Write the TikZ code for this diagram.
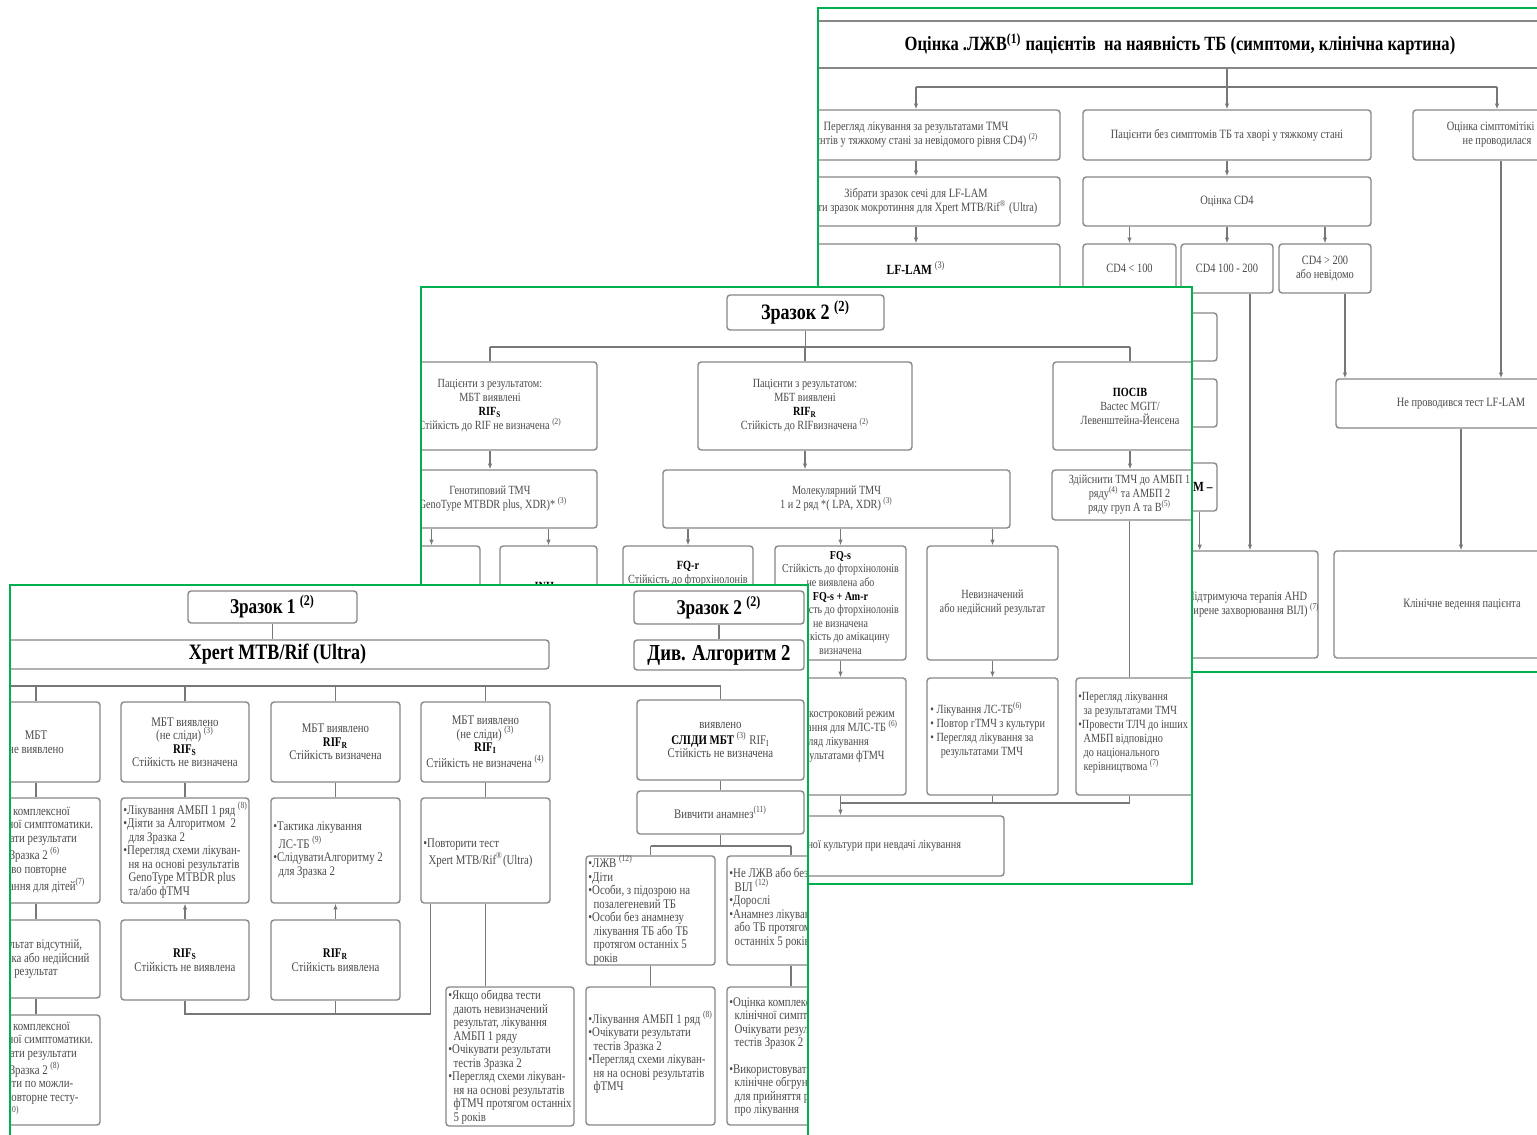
\documentclass[tikz,border=0pt]{standalone}
\usepackage{fontspec}
\setmainfont{Liberation Serif}[FakeStretch=0.82]
\usetikzlibrary{arrows.meta}
\definecolor{grn}{RGB}{0,176,80}
\definecolor{boxc}{RGB}{135,135,135}
\definecolor{linec}{RGB}{120,120,120}
\definecolor{txtc}{RGB}{75,75,75}
\newcommand\fs{\fontsize{6.6}{6.75}\selectfont}
\newcommand\fm{\fontsize{6.25}{7}\selectfont}
\newcommand\ft{\fontsize{6.35}{7}\selectfont}
\newcommand\ssp[1]{\textsuperscript{(#1)}}
\newcommand\bt[1]{\textcolor{black}{\bfseries #1}}
\newcommand\ind{\hspace*{2.6pt}}
\newcommand\mybox[7][]{\node[bx,minimum width={(#5-#3)*0.5pt},minimum height={(#6-#4)*0.5pt},#1] (#2) at ({(#3+#5)/2},{(#4+#6)/2}) {#7};}
\tikzset{
 bx/.style={draw=boxc, line width=0.7pt, rounded corners=1.6pt, fill=white, inner sep=1pt, align=center, text=txtc},
 txt/.style={inner sep=0pt, text=txtc, align=left},
 ln/.style={draw=linec, line width=0.6pt},
 arr/.style={ln, -{Latex[length=2.8pt,width=2.2pt]}},
 panel/.style={draw=grn, line width=1.1pt},
}
\begin{document}
\begin{tikzpicture}[x=0.5pt,y=-0.5pt]
\useasboundingbox (0,0) rectangle (1537,1135);
\fill[white] (0,0) rectangle (1537,1135);
% ================= TOP PANEL =================
\begin{scope}
\clip (818,8) rectangle (1600,672);
\mybox[font=\fontsize{10.1}{11}\selectfont\bfseries, text=black, rounded corners=0pt]{T}{790}{21}{1570}{68}{Оцінка .ЛЖВ\ssp{1} пацієнтів \ на наявність ТБ (симптоми, клінічна картина)}
\mybox[font=\ft]{A1}{772}{110}{1060}{160}{Перегляд лікування за результатами ТМЧ\\(пацієнтів у тяжкому стані за невідомого рівня CD4) \ssp{2}}
\mybox[font=\ft]{A2}{1083}{110}{1371}{160}{Пацієнти без симптомів ТБ та хворі у тяжкому стані}
\mybox[font=\ft]{A3}{1413}{110}{1581}{160}{Оцінка сімптомітікі не\\не проводилася}
\mybox[font=\ft]{B1}{772}{177}{1060}{226}{Зібрати зразок сечі для LF-LAM\\Зібрати зразок мокротиння для Xpert MTB/Rif\textsuperscript{®} (Ultra)}
\mybox[font=\ft]{B2}{1083}{177}{1371}{226}{Оцінка CD4}
\mybox[font=\fontsize{7}{8}\selectfont]{C1}{772}{244}{1060}{292}{\bt{LF-LAM} \ssp{3}}
\mybox[font=\ft]{C2}{1083}{244}{1176}{293}{CD4 < 100}
\mybox[font=\ft]{C3}{1181}{244}{1273}{293}{CD4 100 - 200}
\mybox[font=\ft]{C4}{1279}{244}{1371}{293}{CD4 > 200\\або невідомо}
\mybox{D1}{1090}{313}{1217}{361}{}
\mybox{D2}{1090}{379}{1217}{427}{}
\mybox{D3}{1090}{463}{1217}{511}{}
\node[txt, font=\fontsize{7}{8}\selectfont, anchor=east] (D3t) at (1213,487) {\bt{LF-LAM –}};
\mybox{E1}{1040}{551}{1318}{658}{}
\node[txt, font=\ft, align=center, anchor=east] (E1t) at (1320,604) {(Підтримуюча терапія AHD\\(поширене захворювання ВІЛ) \ssp{7}};
\mybox[font=\ft]{N}{1336}{379}{1586}{428}{Не проводився тест LF-LAM}
\mybox[font=\ft]{K}{1334}{551}{1590}{658}{Клінічне ведення пацієнта}
\coordinate (tj) at (1227,87);
\draw[ln] (T.south -| tj) -- (tj);
\draw[ln] (A1.north |- tj) -- (A3.north |- tj);
\draw[arr] (A1.north |- tj) -- (A1.north);
\draw[arr] (tj) -- (A2.north);
\draw[arr] (A3.north |- tj) -- (A3.north);
\draw[arr] (A1.south) -- (B1.north);
\draw[arr] (B1.south) -- (C1.north);
\draw[arr] (A2.south) -- (B2.north);
\draw[arr] (B2.south -| C2.north) -- (C2.north);
\draw[arr] (B2.south -| C3.north) -- (C3.north);
\draw[arr] (B2.south -| C4.north) -- (C4.north);
\draw[arr] ([xshift=11.5pt]C3.south) -- ([xshift=11.5pt]C3.south |- E1.north);
\draw[arr] ([xshift=10pt]C4.south) -- ([xshift=10pt]C4.south |- N.north);
\draw[arr] ([xshift=2pt]A3.south) -- ([xshift=2pt]A3.south |- N.north);
\draw[arr] (N.south) -- (N.south |- K.north);
\draw[arr] ([xshift=-9pt]D3.south east) -- ([xshift=-9pt]D3.south east |- E1.north);
\end{scope}
\draw[panel] (818,8) rectangle (1600,672);
% ================= MIDDLE PANEL =================
\fill[white] (421,287) rectangle (1192,884);
\begin{scope}
\clip (421,287) rectangle (1192,884);
\mybox[font=\fontsize{11}{13}\selectfont\bfseries, text=black]{Zm}{727}{295}{884}{330}{Зразок 2 \ssp{2}}
\mybox[font=\fm]{M1}{383}{362}{597}{450}{Пацієнти з результатом:\\МБТ виявлені\\\bt{RIF\textsubscript{S}}\\Стійкість до RIF не визначена \ssp{2}}
\mybox[font=\fm]{M2}{698}{362}{912}{450}{Пацієнти з результатом:\\МБТ виявлені\\\bt{RIF\textsubscript{R}}\\Стійкість до RIFвизначена \ssp{2}}
\mybox[font=\fm]{M3}{1053}{362}{1207}{450}{\bt{ПОСІВ}\\Bactec MGIT/\\Левенштейна-Йенсена}
\mybox[font=\fm]{G1}{383}{470}{597}{528}{Генотиповий ТМЧ\\( GenoType MTBDR plus, XDR)* \ssp{3}}
\mybox[font=\fm]{G2}{663}{470}{1010}{528}{Молекулярний ТМЧ\\1 и 2 ряд *( LPA, XDR) \ssp{3}}
\mybox[font=\fm]{G3}{1052}{470}{1207}{520}{Здійснити ТМЧ до АМБП 1\\ряду\ssp{4} та АМБП 2\\ряду груп А та В\ssp{5}}
\mybox{H1}{383}{546}{480}{660}{}
\mybox{H2}{500}{546}{597}{660}{}
\node[txt, font=\fm] (H2t) at (548,586) {\bt{INH-s}};
\mybox{H3}{623}{546}{753}{660}{}
\node[txt, font=\fm, align=center, anchor=north] (H3t) at (688,561) {\bt{FQ-r}\\Стійкість до фторхінолонів\\визначена};
\mybox[font=\fontsize{6.1}{6.8}\selectfont]{H4}{775}{546}{906}{660}{\bt{FQ-s}\\Стійкість до фторхінолонів\\не виявлена або\\\bt{FQ-s + Am-r}\\Стійкість до фторхінолонів\\не визначена\\Стійкість до амікацину\\визначена}
\mybox[font=\fm]{H5}{927}{546}{1058}{660}{Невизначений\\або недійсний результат}
\mybox{I4}{775}{678}{906}{795}{}
\node[txt, font=\fm, anchor=west] (I4t) at (779,736) {•Короткостроковий режим\\\ind лікування для МЛС-ТБ \ssp{6}\\•Перегляд лікування\\\ind за результатами фТМЧ};
\mybox{I5}{927}{678}{1058}{795}{}
\node[txt, font=\fm, anchor=west] (I5t) at (930,730) {• Лікування ЛС-ТБ\ssp{6}\\• Повтор гТМЧ з культури\\• Перегляд лікування за\\\ind\ind результатами ТМЧ};
\mybox{I6}{1076}{678}{1210}{795}{}
\node[txt, font=\fm, anchor=west] (I6t) at (1078,733) {•Перегляд лікування\\\ind за результатами ТМЧ\\•Провести ТЛЧ до інших\\\ind АМБП відповідно\\\ind до національного\\\ind керівництвома \ssp{7}};
\mybox[font=\fm]{J}{680}{816}{1004}{876}{Проведення повторної культури при невдачі лікування}
\coordinate (mj) at (806,347);
\draw[ln] (Zm.south) -- (Zm.south |- mj);
\draw[ln] (M1.north |- mj) -- (M3.north |- mj);
\foreach \n in {M1,M2,M3} \draw[ln] (\n.north |- mj) -- (\n.north);
\draw[arr] (M1.south) -- (M1.south |- G1.north);
\draw[arr] (M2.south) -- (M2.south |- G2.north);
\draw[arr] (M3.south) -- (M3.south |- G3.north);
\draw[arr] (G1.south -| H1.north) -- (H1.north);
\draw[arr] (G1.south -| H2.north) -- (H2.north);
\draw[arr] (G2.south -| H3.north) -- (H3.north);
\draw[arr] (G2.south -| H4.north) -- (H4.north);
\draw[arr] (G2.south -| H5.north) -- (H5.north);
\draw[arr] (H4.south) -- (I4.north);
\draw[arr] (H5.south) -- (I5.north);
\draw[ln] (G3.south) -- (G3.south |- I6.north);
\coordinate (mj2) at (0,803);
\draw[ln] (I5.south) -- (I5.south |- mj2);
\draw[ln] (G3.south |- I6.south) -- (G3.south |- mj2);
\draw[ln] (I4.south |- mj2) -- (G3.south |- mj2);
\draw[arr] (I4.south) -- (I4.south |- J.north);
\end{scope}
\draw[panel] (421,287) rectangle (1192,884);
% ================= BOTTOM PANEL =================
\fill[white] (10,585) rectangle (808,1160);
\begin{scope}
\clip (10,585) rectangle (808,1160);
\mybox[font=\fontsize{10.5}{12}\selectfont\bfseries,text=black]{Z1}{188}{591}{357}{623}{Зразок 1 \ssp{2}}
\mybox[font=\fontsize{11}{13}\selectfont\bfseries,text=black]{X}{6}{640}{549}{669}{Xpert MTB/Rif (Ultra)}
\mybox[font=\fontsize{10.5}{12}\selectfont\bfseries,text=black]{Zb}{634}{591}{804}{624}{Зразок 2 \ssp{2}}
\mybox[font=\fontsize{11.4}{13}\selectfont\bfseries,text=black]{Alg}{634}{640}{804}{670}{Див. Алгоритм 2}
\mybox[font=\fs]{R1a}{-28}{702}{100}{782}{МБТ\\не виявлено}
\mybox[font=\fs]{R1b}{121}{702}{249}{782}{МБТ виявлено\\(не сліди) \ssp{3}\\\bt{RIF\textsubscript{S}}\\Стійкість не визначена}
\mybox[font=\fs]{R1c}{271}{702}{400}{782}{МБТ виявлено\\\bt{RIF\textsubscript{R}}\\Стійкість визначена}
\mybox[font=\fs]{R1d}{421}{702}{550}{782}{МБТ виявлено\\(не сліди) \ssp{3}\\\bt{RIF\textsubscript{I}}\\Стійкість не визначена \ssp{4}}
\mybox[font=\fs]{R1e}{637}{700}{804}{780}{виявлено\\[1pt]\bt{СЛІДИ МБТ} \ssp{3} RIF\textsubscript{I}\\Стійкість не визначена}
\mybox{R2a}{-28}{798}{100}{903}{}
\node[txt,font=\fs,anchor=west] (R2at) at (-26,850) {•Оцінка комплексної\\\ind клінічної симптоматики.\\•Очікувати результати\\\ind тестів Зразка 2 \ssp{6}\\•Можливо повторне\\\ind тестування для дітей\ssp{7}};
\mybox{R2b}{121}{798}{249}{903}{}
\node[txt,font=\fs,anchor=west] (R2bt) at (123,850) {•Лікування АМБП 1 ряд \ssp{8}\\•Діяти за Алгоритмом \ 2\\\ind для Зразка 2\\•Перегляд схеми лікуван-\\\ind ня на основі результатів\\\ind GenoType MTBDR plus\\\ind та/або фТМЧ};
\mybox{R2c}{271}{798}{400}{903}{}
\node[txt,font=\fs,anchor=west] (R2ct) at (273,850) {•Тактика лікування\\\ind ЛС-ТБ \ssp{9}\\•СлідуватиАлгоритму 2\\\ind для Зразка 2};
\mybox{R2d}{421}{798}{550}{903}{}
\node[txt,font=\fs,anchor=west] (R2dt) at (423,853) {•Повторити тест\\\ind Xpert MTB/Rif\textsuperscript{®}(Ultra)};
\mybox[font=\fs]{An}{637}{791}{804}{834}{Вивчити анамнез\ssp{11}}
\mybox[font=\fs]{R3a}{-28}{920}{100}{998}{Результат відсутній,\\помилка або недійсний\\результат}
\mybox[font=\fs]{R3b}{121}{920}{249}{1000}{\bt{RIF\textsubscript{S}}\\Стійкість не виявлена}
\mybox[font=\fs]{R3c}{271}{920}{400}{1000}{\bt{RIF\textsubscript{R}}\\Стійкість виявлена}
\mybox{R3d}{446}{987}{574}{1126}{}
\node[txt,font=\fs,anchor=west] (R3dt) at (448,1057) {•Якщо обидва тести\\\ind дають невизначений\\\ind результат, лікування\\\ind АМБП 1 ряду\\•Очікувати результати\\\ind тестів Зразка 2\\•Перегляд схеми лікуван-\\\ind ня на основі результатів\\\ind фТМЧ протягом останніх\\\ind 5 років};
\mybox{R3e}{586}{856}{715}{965}{}
\node[txt,font=\fs,anchor=west] (R3et) at (588,910) {•ЛЖВ \ssp{12}\\•Діти\\•Особи, з підозрою на\\\ind позалегеневий ТБ\\•Особи без анамнезу\\\ind лікування ТБ або ТБ\\\ind протягом останніх 5\\\ind років};
\mybox{R3f}{727}{856}{855}{965}{}
\node[txt,font=\fs,anchor=west] (R3ft) at (729,908) {•Не ЛЖВ або без\\\ind ВІЛ \ssp{12}\\•Дорослі\\•Анамнез лікування\\\ind або ТБ протягом\\\ind останніх 5 років};
\mybox{R4a}{-28}{1015}{100}{1125}{}
\node[txt,font=\fs,anchor=west] (R4at) at (-26,1070) {•Оцінка комплексної\\\ind клінічної симптоматики.\\•Очікувати результати\\\ind тестів Зразка 2 \ssp{8}\\•Провести по можли-\\\ind вості повторне тесту-\\\ind вання\ssp{10}};
\mybox{R4e}{586}{987}{715}{1125}{}
\node[txt,font=\fs,anchor=west] (R4et) at (588,1052) {•Лікування АМБП 1 ряд \ssp{8}\\•Очікувати результати\\\ind тестів Зразка 2\\•Перегляд схеми лікуван-\\\ind ня на основі результатів\\\ind фТМЧ};
\mybox{R4f}{727}{987}{855}{1125}{}
\node[txt,font=\fs,anchor=west] (R4ft) at (729,1057) {•Оцінка комплексної\\\ind клінічної симптоматики.\\\ind Очікувати результати\\\ind тестів Зразок 2\\[6.4pt]•Використовувати\\\ind клінічне обгрунтування\\\ind для прийняття рішення\\\ind про лікування};
\draw[ln] (Z1.south) -- (Z1.south |- X.north);
\draw[ln] (Zb.south) -- (Zb.south |- Alg.north);
\coordinate (bj) at (0,686);
\draw[ln] ([xshift=-40pt]R1a.north |- bj) -- (R1e.north |- bj);
\foreach \n in {R1a,R1b,R1c,R1d,R1e} \draw[ln] (\n.north |- bj) -- (\n.north);
\draw[ln] (R1a.south) -- (R2a.north);
\draw[ln] (R1b.south) -- (R2b.north);
\draw[ln] (R1c.south) -- (R2c.north);
\draw[ln] (R1d.south) -- (R2d.north);
\draw[ln] (R1e.south) -- (An.north);
\draw[ln] (R2a.south) -- (R3a.north);
\draw[arr] (R3b.north) -- (R2b.south);
\draw[arr] (R3c.north) -- (R2c.south);
\coordinate (bj2) at (0,1014);
\draw[ln] ([xshift=5pt]R2d.south west) -- ([xshift=5pt]R2d.south west |- bj2) -- (R3b.south |- bj2) -- (R3b.south);
\draw[ln] (R3c.south) -- (R3c.south |- bj2);
\draw[ln] (R2d.south) -- (R2d.south |- R3d.north);
\coordinate (bj3) at (0,846);
\draw[ln] (An.south) -- (An.south |- bj3);
\draw[ln] (R3e.north |- bj3) -- (R3f.north |- bj3);
\draw[ln] (R3e.north |- bj3) -- (R3e.north);
\draw[ln] (R3f.north |- bj3) -- (R3f.north);
\draw[ln] (R3e.south) -- (R4e.north);
\draw[ln] (R3f.south) -- (R4f.north);
\draw[ln] (R3a.south) -- (R4a.north);
\end{scope}
\draw[panel] (10,585) rectangle (808,1160);
\end{tikzpicture}
\end{document}
